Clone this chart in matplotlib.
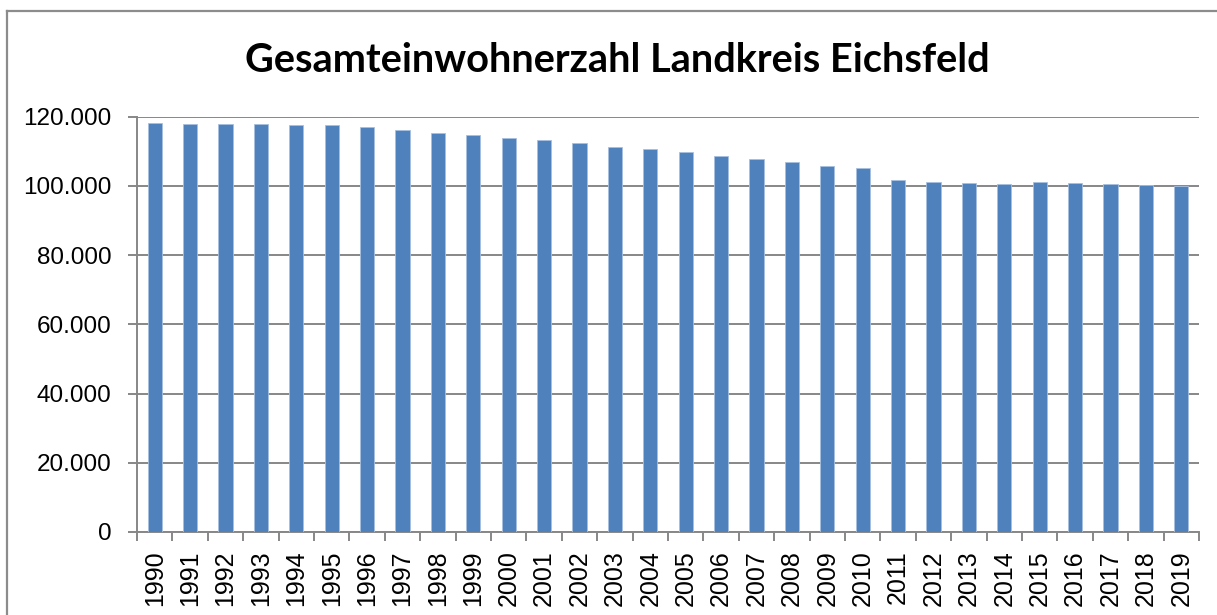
import numpy as np
import matplotlib.pyplot as plt
from matplotlib.lines import Line2D
from matplotlib.ticker import FuncFormatter

years = list(range(1990, 2020))
einwohner = [118100, 118000, 117900, 117800, 117700, 117500, 116900, 116150,
             115200, 114600, 113950, 113270, 112300, 111350, 110700, 109900,
             108750, 107800, 106850, 105850, 105100, 101700, 101250, 100850,
             100650, 101250, 100950, 100550, 100300, 100000]
yticks = [0, 20000, 40000, 60000, 80000, 100000, 120000]

W, H = 1217, 615
fig = plt.figure(figsize=(W / 100, H / 100), dpi=100)
ax = fig.add_axes([137 / W, 1 - 532 / H, (1199 - 137) / W, (532 - 116.7) / H])

grey = '#878787'
x = np.arange(len(years))
ax.bar(x, einwohner, width=0.4, color='#4f81bd', edgecolor='#a7c0df', linewidth=0.6, zorder=3)

ax.set_xlim(-0.5, len(years) - 0.5)
ax.set_ylim(0, 120000)
ax.set_yticks(yticks)
ax.yaxis.set_major_formatter(FuncFormatter(lambda v, p: f'{int(v):,}'.replace(',', '.')))
ax.grid(axis='y', color=grey, linewidth=1.4, zorder=0)

ax.set_xticks(x)
ax.set_xticklabels([str(y) for y in years], rotation=90)
ax.set_xticks(np.arange(-0.5, len(years)), minor=True)
ax.tick_params(axis='x', which='major', length=0, pad=13, labelsize=18)
ax.tick_params(axis='x', which='minor', length=6.5, width=1.4, color=grey)
ax.tick_params(axis='y', length=6.5, width=1.4, color=grey, pad=12, labelsize=17.5)
for lab in ax.get_xticklabels() + ax.get_yticklabels():
    lab.set_fontfamily('Liberation Sans')

for s in ['top', 'right']:
    ax.spines[s].set_visible(False)
ax.spines['left'].set_color(grey)
ax.spines['bottom'].set_color(grey)
ax.spines['left'].set_linewidth(1.4)
ax.spines['bottom'].set_linewidth(1.4)

fig.text(617 / W, 1 - 61 / H, 'Gesamteinwohnerzahl Landkreis Eichsfeld', ha='center', va='center',
         fontsize=28.6, fontweight='bold', family='Lato')

# Rahmen links und oben
fig.add_artist(Line2D([7 / W, 7 / W], [0, 1 - 11 / H], color='#8c8c8c', linewidth=1.6))
fig.add_artist(Line2D([7 / W, 1], [1 - 11 / H, 1 - 11 / H], color='#8c8c8c', linewidth=1.6))

fig.savefig('out.png', dpi=100)
